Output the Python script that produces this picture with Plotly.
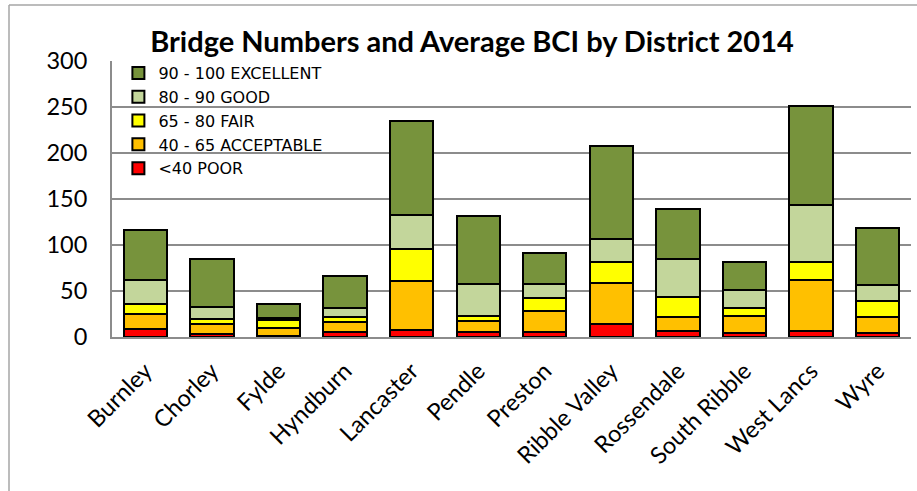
import plotly.graph_objects as go

districts = ["Burnley", "Chorley", "Fylde", "Hyndburn", "Lancaster", "Pendle",
             "Preston", "Ribble Valley", "Rossendale", "South Ribble", "West Lancs", "Wyre"]

poor = [9, 3, 1, 5, 8, 5, 5, 14, 7, 4, 6, 4]
acceptable = [16, 11, 9, 11, 53, 12, 23, 45, 15, 19, 56, 18]
fair = [11, 6, 8, 6, 35, 6, 14, 23, 22, 9, 20, 17]
good = [26, 13, 3, 9, 37, 35, 16, 24, 41, 19, 62, 18]
excellent = [54, 52, 15, 35, 102, 74, 33, 102, 54, 31, 107, 62]

series = [
    ("<40 POOR", poor, "#FF0000"),
    ("40 - 65 ACCEPTABLE", acceptable, "#FFC000"),
    ("65 - 80 FAIR", fair, "#FFFF00"),
    ("80 - 90 GOOD", good, "#C3D69B"),
    ("90 - 100 EXCELLENT", excellent, "#77933C"),
]

font_family = "Lato, 'Open Sans', sans-serif"

fig = go.Figure()
for name, vals, color in series:
    fig.add_trace(go.Bar(
        x=districts, y=vals, name=name,
        marker=dict(color=color, line=dict(color="black", width=2)),
    ))

fig.update_layout(
    width=917, height=491,
    barmode="stack", bargap=0.35,
    paper_bgcolor="white", plot_bgcolor="white",
    margin=dict(l=112, r=6, t=61, b=154),
    font=dict(family=font_family, color="black"),
    title=dict(
        text="<b>Bridge Numbers and Average BCI by District 2014</b>",
        x=(472 - 112) / 799, xref="paper", xanchor="center",
        y=1 - 42 / 491, yref="container", yanchor="middle",
        font=dict(size=29, family=font_family, color="black"),
    ),
    legend=dict(
        x=0.008, y=1.018, xanchor="left", yanchor="top",
        bgcolor="rgba(0,0,0,0)", traceorder="reversed",
        font=dict(size=16, family="'DejaVu Sans', sans-serif"),
        itemsizing="constant", tracegroupgap=0,
    ),
    showlegend=True,
)

fig.update_yaxes(
    range=[0, 300], dtick=50, showgrid=True, gridcolor="#8C8C8C", gridwidth=2,
    showline=True, linecolor="#8C8C8C", linewidth=2, ticks="",
    tickfont=dict(size=23.5, family=font_family), ticklabelstandoff=18,
    zeroline=False,
)
fig.update_xaxes(
    showline=True, linecolor="#8C8C8C", linewidth=2, ticks="",
    tickangle=-45, tickfont=dict(size=23.5, family=font_family),
    ticklabelstandoff=9,
)

# outer chart frame (left and top edges)
fig.add_shape(type="line", xref="paper", yref="paper",
              x0=(9 - 112) / 799, x1=1.02, y0=1 + 56 / 276, y1=1 + 56 / 276,
              line=dict(color="#A6A6A6", width=1.5))
fig.add_shape(type="line", xref="paper", yref="paper",
              x0=(9 - 112) / 799, x1=(9 - 112) / 799, y0=1 + 56 / 276, y1=-0.6,
              line=dict(color="#A6A6A6", width=1.5))

fig.write_html("out.html")
